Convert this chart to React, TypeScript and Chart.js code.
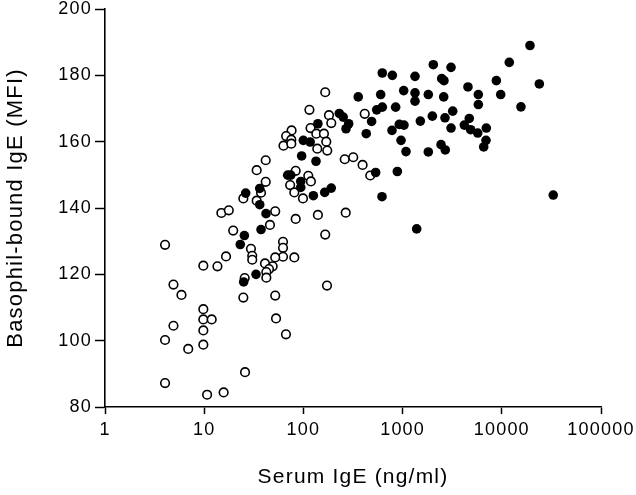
import React, { useEffect, useRef } from "react";
import { Chart, registerables } from "chart.js";

Chart.register(...registerables);

// Open circles: [serum IgE (ng/ml), basophil-bound IgE (MFI)]
const openX = [
  4.03, 9.8, 13.6, 16.6, 4.9, 5.9, 9.8, 9.8, 11.9, 9.8, 4.9, 4.03, 9.8, 6.9, 4.03, 10.7, 15.7, 25.8,
  41.7, 33.8, 83.6, 112, 119, 73.5, 81, 99, 41.7, 37.4, 24.8, 33.8, 52, 14.9, 17.7, 83.6, 140, 166,
  46, 19.6, 29.6, 62.3, 62.3, 62.3, 30.5, 30.5, 52, 81, 41, 49, 45, 42.3, 42.3, 25.6, 24.8, 52,
  173, 53, 66.7, 166, 115, 181, 415, 191, 76, 67, 63, 75.5, 75.5, 118, 135, 161, 170, 174, 138,
  261, 318, 395, 472, 267,
];
const openY = [
  128.9, 122.6, 122.4, 125.4, 116.9, 113.8, 109.5, 106.4, 106.4, 103.1, 104.5, 100.2, 98.8, 97.5, 87.2, 83.7, 84.4, 90.5,
  154.4, 151.4, 151.2, 149.7, 148, 146.9, 144.7, 142.9, 147.9, 144.6, 142.9, 142.2, 139, 138.5, 139.3, 136.7, 137.9, 132,
  134.9, 133.2, 127.7, 129.8, 128, 125.3, 125.6, 124.4, 125.1, 125.1, 123.3, 122.4, 121.6, 120.7, 119, 118.9, 113, 113.6,
  116.6, 106.7, 101.9, 174.9, 169.6, 168, 168.4, 165.6, 163.4, 161.7, 158.8, 160.6, 159.4, 164.1, 162.4, 162.4, 160, 157.3, 157.9,
  154.7, 155.3, 153, 149.8, 138.6,
];

// Filled circles
const filledX = [
  96, 134, 69.5, 74.5, 94, 94, 126, 164, 191, 36.3, 26.2, 36.3, 42, 37.4, 25.4, 23.1, 33.3, 25,
  357, 601, 1026, 548, 624, 851, 230, 252, 487, 140, 286, 269, 926, 1033, 782, 99.8, 117, 430,
  964, 1082, 535, 885, 620, 19240, 11900, 2040, 3077, 624, 788, 1334, 2477, 2612, 8810, 23900,
  4560, 1334, 1334, 1816, 2596, 5800, 5800, 9750, 15600, 3200, 1995, 2675, 4700, 1510, 3077,
  4190, 4850, 5720, 6980, 6930, 6570, 2440, 2693, 1816, 33000, 1387,
];
const filledY = [
  155.7, 154.1, 149.9, 149.9, 148, 146.2, 143.7, 144.7, 146, 145.9, 144.5, 141, 138.3, 133.5, 131.7, 129, 120, 117.7,
  173.5, 174.2, 175.4, 169.6, 170.4, 170.4, 168.5, 167.4, 166.1, 165.4, 165.4, 163.9, 165.2, 165, 163.4, 160.4, 159.9, 162.4,
  160.4, 157, 150.7, 151, 143.4, 189, 183.9, 183.2, 182.4, 180.7, 180, 179.7, 179, 178.4, 178.4, 177.4,
  176.5, 174.7, 172.2, 174.2, 173.5, 174.2, 171.2, 174.2, 170.5, 169.2, 167.7, 167.2, 167, 166.2, 164.1,
  165, 163.6, 162.6, 164.1, 160.4, 158.4, 159.1, 157.5, 156.9, 143.9, 133.7,
];

const xTicks = [1, 10, 100, 1000, 10000, 100000];
const yTicks = [80, 100, 120, 140, 160, 180, 200];

const xTitle = "Serum IgE (ng/ml)";
const yTitle = "Basophil-bound IgE (MFI)";

const FONT = "'Liberation Sans', Arial, Helvetica, sans-serif";

const spacingPlugin = {
  id: "letterSpacing",
  beforeLayout(chart: any) {
    (chart.ctx as any).letterSpacing = "1.2px";
  },
  beforeDraw(chart: any) {
    (chart.ctx as any).letterSpacing = "1.2px";
  },
};

export default function App() {
  const ref = useRef<HTMLCanvasElement | null>(null);

  useEffect(() => {
    const canvas = ref.current;
    if (!canvas) return;
    const openData = openX.map((x, i) => ({ x, y: openY[i] }));
    const filledData = filledX.map((x, i) => ({ x, y: filledY[i] }));

    const chart = new Chart(canvas, {
      type: "scatter",
      plugins: [spacingPlugin],
      data: {
        datasets: [
          {
            label: "open",
            data: openData,
            pointStyle: "circle",
            pointRadius: 4.3,
            pointBackgroundColor: "#ffffff",
            pointBorderColor: "#000000",
            pointBorderWidth: 1.6,
            order: 2,
          },
          {
            label: "filled",
            data: filledData,
            pointStyle: "circle",
            pointRadius: 4.8,
            pointBackgroundColor: "#000000",
            pointBorderColor: "#000000",
            pointBorderWidth: 0,
            order: 1,
          },
        ],
      },
      options: {
        responsive: false,
        animation: false,
        events: [],
        layout: { padding: { top: 9, right: 35, bottom: 0, left: 0 } },
        plugins: {
          legend: { display: false },
          tooltip: { enabled: false },
        },
        scales: {
          x: {
            type: "logarithmic",
            min: 1,
            max: 100000,
            afterBuildTicks: (axis: any) => {
              axis.ticks = xTicks.map((v) => ({ value: v }));
            },
            afterFit: (scale: any) => {
              scale.height = 88;
              scale.paddingLeft = 0;
              scale.paddingRight = 0;
            },
            ticks: {
              color: "#000",
              font: { family: FONT, size: 18 },
              padding: 5,
              maxRotation: 0,
              autoSkip: false,
              callback: (v: any) => String(v),
            },
            grid: {
              drawOnChartArea: false,
              drawTicks: true,
              tickLength: 7,
              tickWidth: 1.5,
              color: "#000",
            },
            border: { color: "#000", width: 1.6 },
            title: {
              display: true,
              text: xTitle,
              color: "#000",
              font: { family: FONT, size: 21 },
              padding: { top: 4, bottom: 5 },
            },
          },
          y: {
            type: "linear",
            min: 80,
            max: 200,
            afterBuildTicks: (axis: any) => {
              axis.ticks = yTicks.map((v) => ({ value: v }));
            },
            afterFit: (scale: any) => {
              scale.width = 105;
              scale.paddingTop = 0;
              scale.paddingBottom = 0;
            },
            ticks: {
              color: "#000",
              font: { family: FONT, size: 18 },
              padding: 3,
              autoSkip: false,
            },
            grid: {
              drawOnChartArea: false,
              drawTicks: true,
              tickLength: 10,
              tickWidth: 1.5,
              color: "#000",
            },
            border: { color: "#000", width: 1.6 },
            title: {
              display: true,
              text: yTitle,
              color: "#000",
              font: { family: FONT, size: 22 },
              padding: { top: 3, bottom: 4 },
            },
          },
        },
      },
    });
    return () => chart.destroy();
  }, []);

  return (
    <div style={{ position: "fixed", left: 0, top: 0, width: 636, height: 495, background: "#fff" }}>
      <canvas ref={ref} width={636} height={495} style={{ display: "block" }} />
    </div>
  );
}
